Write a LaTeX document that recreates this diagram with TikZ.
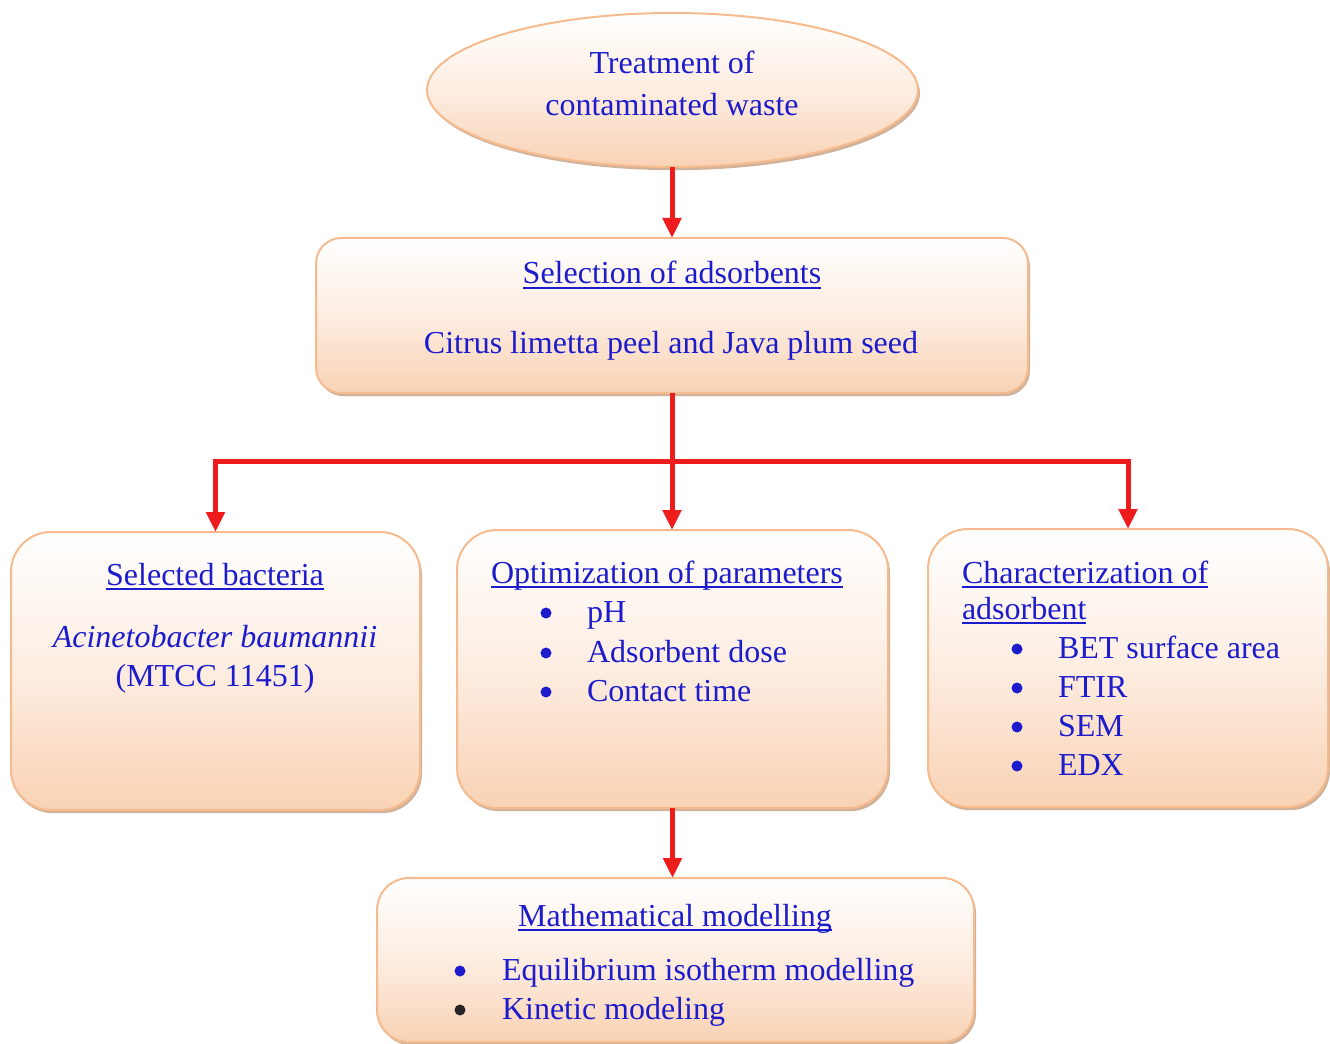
\documentclass[tikz,border=0pt]{standalone}
\usepackage{fontspec}
\setmainfont{Liberation Serif}
\usetikzlibrary{shapes.geometric,shadows,arrows.meta}
\definecolor{txtblue}{RGB}{28,28,204}
\definecolor{peach}{RGB}{249,210,180}
\definecolor{peachborder}{RGB}{245,187,142}
\definecolor{shadowbrown}{RGB}{200,165,138}
\definecolor{arrred}{RGB}{238,28,28}
\newcommand{\myul}[1]{\begingroup\setbox0=\hbox{#1}\rlap{\rule[-3.4pt]{\wd0}{1.4pt}}\box0\endgroup}
\begin{document}
\begin{tikzpicture}[x=0.75pt,y=-0.75pt,
  box/.style={draw=peachborder, line width=1.5pt, top color=white, bottom color=peach,
    middle color=peach!40!white,
    drop shadow={shadow xshift=1.5pt, shadow yshift=-2.4pt, fill=shadowbrown, opacity=0.85},
    inner sep=0pt, outer sep=0pt},
  link/.style={draw=arrred, line width=3.75pt, line join=miter},
  arr/.style={link, -{Triangle[length=15pt,width=13.5pt]}},
  txt/.style={text=txtblue, font=\fontsize{24}{24}\selectfont, inner sep=0pt, outer sep=0pt},
  blt/.style={circle, fill=txtblue, inner sep=0pt, minimum size=8.25pt}
]
\useasboundingbox (0,0) rectangle (1330,1044);

% shapes
\node[ellipse, box, minimum width=368.25pt, minimum height=115.5pt] (treat) at (672.5,90) {};
\node[box, rounded corners=19pt, minimum width=534pt, minimum height=116.25pt] (sel) at (672,315.5) {};
\node[box, rounded corners=30pt, minimum width=306.75pt, minimum height=208.5pt] (bac) at (215.5,671) {};
\node[box, rounded corners=30pt, minimum width=323.25pt, minimum height=208.5pt] (opt) at (672.5,669) {};
\node[box, rounded corners=30pt, minimum width=300pt, minimum height=208.5pt] (chr) at (1128,668) {};
\node[box, rounded corners=24pt, minimum width=447.75pt, minimum height=123pt] (math) at (675.5,960) {};

% connectors
\coordinate (split) at (672,461);
\draw[arr] (treat.south -| sel.north) -- (sel.north);
\draw[link] (sel.south) -- (split);
\draw[arr] (split) -| (bac.north);
\draw[arr] (split) -| (chr.north);
\draw[arr] (split) -- (split |- opt.north);
\draw[arr] (opt.south) -- (opt.south |- math.north);

% texts
\node[txt, anchor=base] (t1) at (672,74) {Treatment of};
\node[txt, anchor=base] (t2) at (672,116) {contaminated waste};

\node[txt, anchor=base] (selh) at (672,284) {\myul{Selection of adsorbents}};
\node[txt, anchor=base] (selt) at (671,354) {Citrus limetta peel and Java plum seed};

\node[txt, anchor=base] (bach) at (215,585) {\myul{Selected bacteria}};
\node[txt, anchor=base] (bact) at (215,647) {\itshape Acinetobacter baumannii};
\node[txt, anchor=base] (bacid) at (215,686) {(MTCC 11451)};

\node[txt, anchor=base west] (opth) at (491,583) {\myul{Optimization of parameters}};
\foreach \y/\t [count=\i] in {622/pH, 662/Adsorbent dose, 701/Contact time} {
  \node[blt] (ob\i) at (546,\y-9) {};
  \node[txt, anchor=base west] (ot\i) at (587,\y) {\t};
}

\node[txt, anchor=base west] (chh1) at (962,583) {\myul{Characterization of}};
\node[txt, anchor=base west] (chh2) at (962,619) {\myul{adsorbent}};
\foreach \y/\t [count=\i] in {658/BET surface area, 697/FTIR, 736/SEM, 775/EDX} {
  \node[blt] (cb\i) at (1017,\y-9) {};
  \node[txt, anchor=base west] (ct\i) at (1058,\y) {\t};
}

\node[txt, anchor=base] (mh) at (675,926) {\myul{Mathematical modelling}};
\node[blt] (mb1) at (460,971) {};
\node[txt, anchor=base west] (mt1) at (502,980) {Equilibrium isotherm modelling};
\node[blt, fill=black!85] (mb2) at (460,1010) {};
\node[txt, anchor=base west] (mt2) at (502,1019) {Kinetic modeling};
\end{tikzpicture}
\end{document}
